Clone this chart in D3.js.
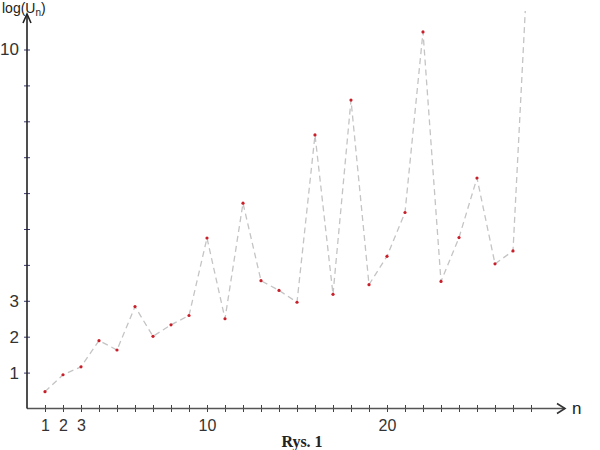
<!DOCTYPE html>
<html>
<head>
<meta charset="utf-8">
<script src="https://cdn.jsdelivr.net/npm/d3@7"></script>
<style>
  html, body { margin: 0; padding: 0; background: #fff; }
  svg { display: block; }
</style>
</head>
<body>
<svg id="chart" width="600" height="450"></svg>
<script>
// ---- data ----
const nValues = [1,2,3,4,5,6,7,8,9,10,11,12,13,14,15,16,17,18,19,20,21,22,23,24,25,26,27,28];
const logU    = [0.47,0.94,1.16,1.89,1.63,2.84,2.01,2.33,2.59,4.75,2.50,5.72,3.56,3.29,2.96,7.62,3.18,8.59,3.45,4.24,5.46,10.49,3.54,4.76,6.42,4.03,4.39,14.2];
const xTickValues = [1,2,3,4,5,6,7,8,9,10,11,12,13,14,15,16,17,18,19,20,21,22,23,24,25,26,27,28];
const xTickLabels = ["1","2","3","","","","","","","10","","","","","","","","","","20","","","","","","","",""];
const yTickValues = [1,2,3,4,5,6,7,8,9,10];
const yTickLabels = ["1","2","3","","","","","","","10"];
const yTitle = "log(U";
const yTitleSub = "n";
const xTitle = "n";
const caption = "Rys. 1";

const data = nValues.map((n, i) => ({n, v: logU[i]}));

const svg = d3.select("#chart");
const x = d3.scaleLinear().domain([0, 1]).range([27, 45]);
const y = d3.scaleLinear().domain([0, 10]).range([408.5, 49.5]);

const tickColor = "#3b3b72";
const font = "Liberation Sans, Arial, sans-serif";

// clip for the data line
svg.append("defs").append("clipPath").attr("id", "clip")
  .append("rect").attr("x", 27).attr("y", 11).attr("width", 560).attr("height", 400);

// x axis
const xAxis = d3.axisBottom(x).tickValues(xTickValues)
  .tickFormat((d, i) => xTickLabels[i]).tickSizeOuter(0).tickSizeInner(3).tickPadding(8);
const gx = svg.append("g").attr("transform", `translate(0,${y(0)})`).call(xAxis);
gx.select(".domain").remove();
gx.selectAll(".tick line").attr("y1", -3.5).attr("y2", 3.5).attr("stroke", tickColor).attr("stroke-width", 1);
gx.selectAll(".tick text").attr("font-family", font).attr("font-size", 16).attr("fill", "#333");

// y axis
const yAxis = d3.axisLeft(y).tickValues(yTickValues)
  .tickFormat((d, i) => yTickLabels[i]).tickSizeOuter(0).tickSizeInner(3).tickPadding(5);
const gy = svg.append("g").attr("transform", `translate(${x(0)},0)`).call(yAxis);
gy.select(".domain").remove();
gy.selectAll(".tick line").attr("x1", -3).attr("x2", 3).attr("stroke", tickColor).attr("stroke-width", 1);
gy.selectAll(".tick text").attr("font-family", font).attr("font-size", 17).attr("fill", "#333");

// axis lines with arrows
svg.append("line").attr("x1", x(0)).attr("y1", y(0)).attr("x2", 565).attr("y2", y(0))
  .attr("stroke", "#555").attr("stroke-width", 1.6);
svg.append("path").attr("d", `M557,${y(0)-5} L565,${y(0)} L557,${y(0)+5}`)
  .attr("fill", "none").attr("stroke", "#333").attr("stroke-width", 1.6);
svg.append("line").attr("x1", x(0)).attr("y1", y(0)).attr("x2", x(0)).attr("y2", 14)
  .attr("stroke", "#222").attr("stroke-width", 1.6);
svg.append("path").attr("d", `M${x(0)-4},23 L${x(0)},14 L${x(0)+4},23`)
  .attr("fill", "none").attr("stroke", "#222").attr("stroke-width", 1.6);

// titles
const yt = svg.append("text").attr("x", 2).attr("y", 13)
  .attr("font-family", font).attr("font-size", 14).attr("fill", "#222");
yt.append("tspan").text(yTitle);
yt.append("tspan").attr("font-size", 10).attr("dy", 3).text(yTitleSub);
yt.append("tspan").attr("dy", -3).text(")");

svg.append("text").attr("x", 572).attr("y", 414)
  .attr("font-family", font).attr("font-size", 17).attr("fill", "#222")
  .text(xTitle);

svg.append("text").attr("x", 302).attr("y", 447).attr("text-anchor", "middle")
  .attr("font-family", "Liberation Serif, Times New Roman, serif").attr("font-weight", "bold")
  .attr("font-size", 16).attr("fill", "#222").text(caption);

// data line
const line = d3.line().x(d => x(d.n)).y(d => y(d.v));
const plot = svg.append("g").attr("clip-path", "url(#clip)");
plot.append("path").datum(data).attr("d", line)
  .attr("fill", "none").attr("stroke", "#c4c4c4").attr("stroke-width", 1.3)
  .attr("stroke-dasharray", "6,4");
plot.selectAll("circle").data(data).enter().append("circle")
  .attr("cx", d => x(d.n)).attr("cy", d => y(d.v)).attr("r", 1.6)
  .attr("fill", "#c8202a");
</script>
</body>
</html>
